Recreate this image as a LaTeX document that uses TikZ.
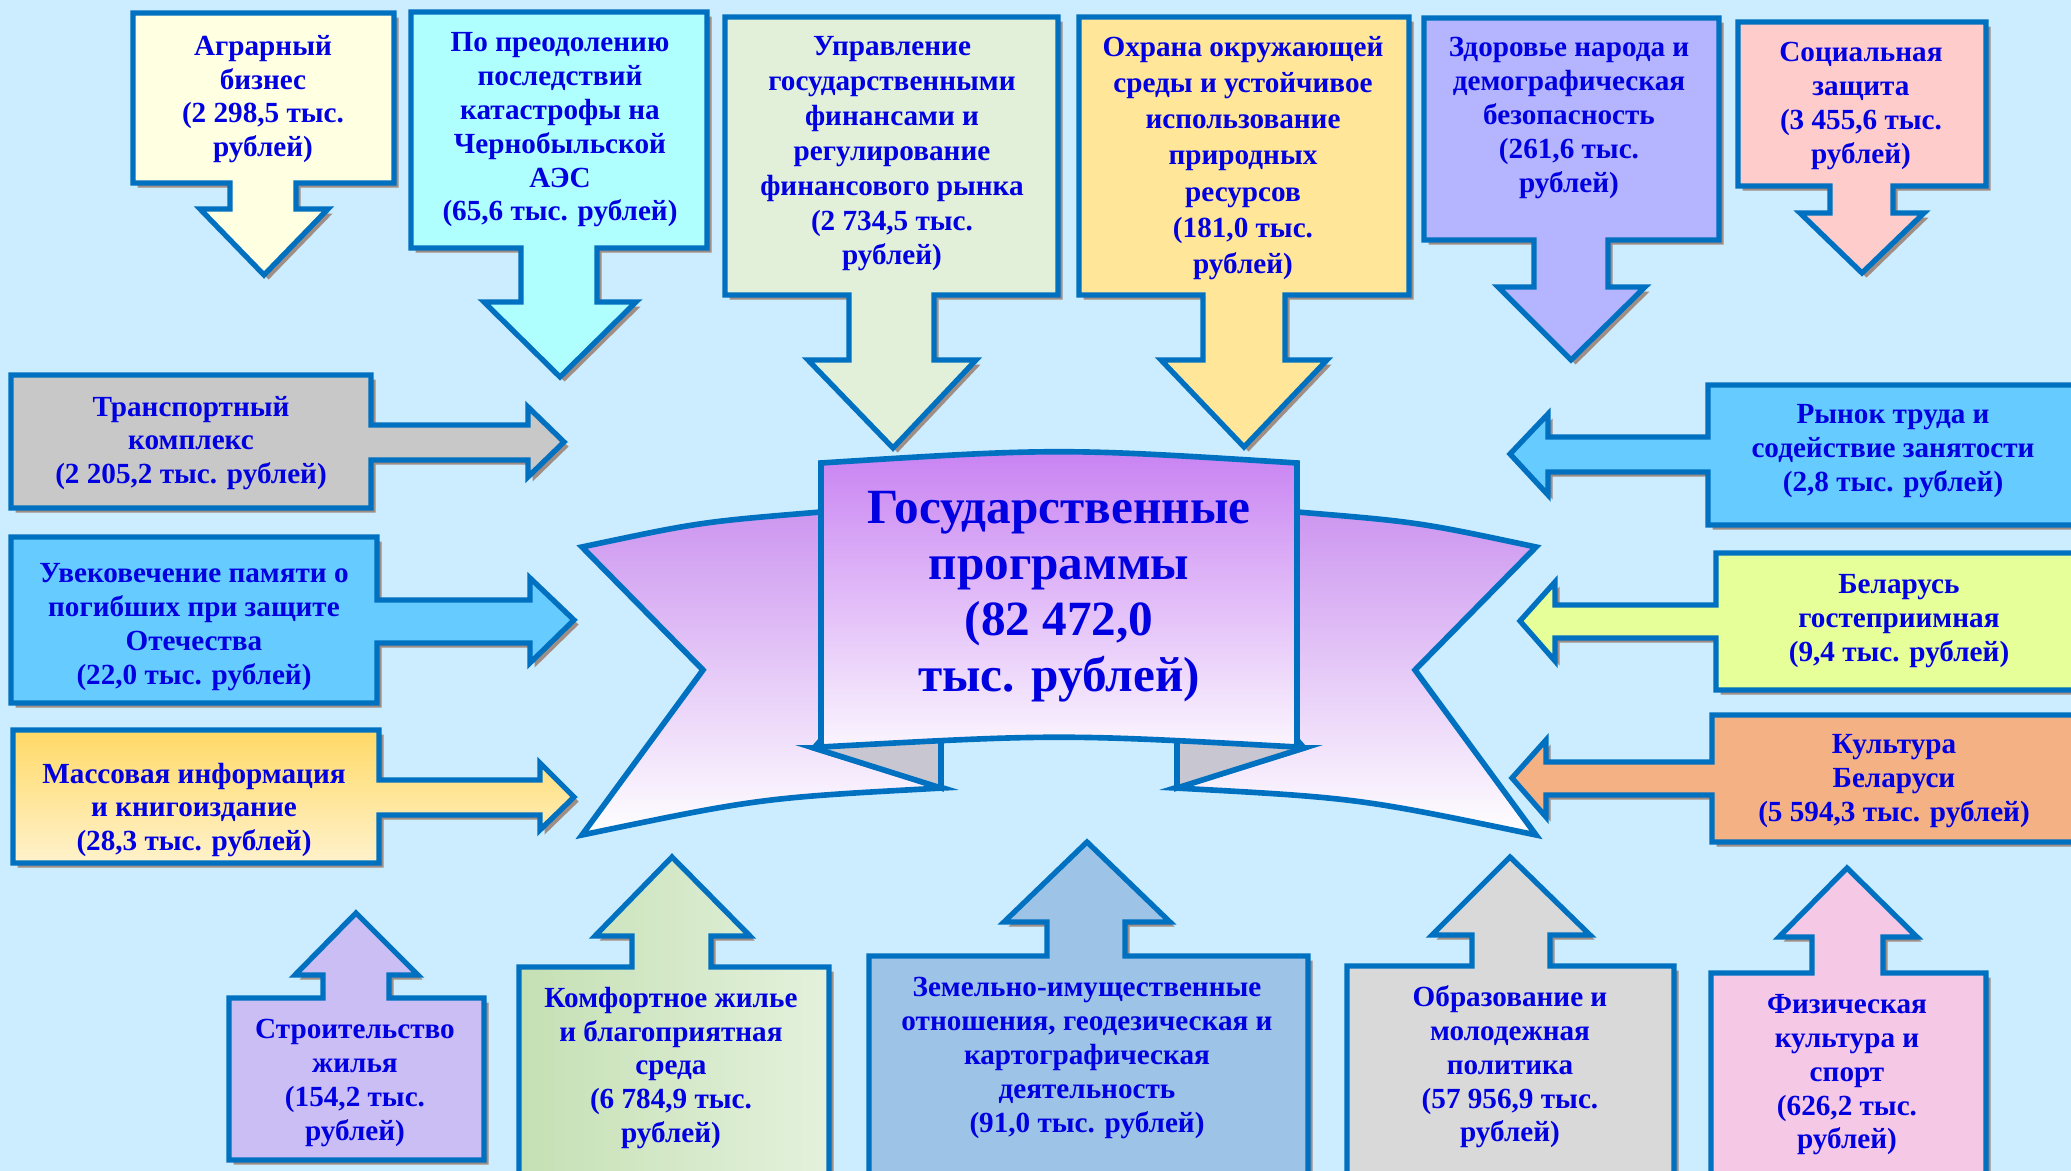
\documentclass[tikz,border=0pt]{standalone}
\usepackage{fontspec}
\setmainfont{Liberation Serif}
\usetikzlibrary{positioning,shadows}
\definecolor{bgblue}{RGB}{204,236,255}
\definecolor{edge}{RGB}{0,112,192}
\definecolor{txtblue}{RGB}{0,0,224}
\definecolor{shade}{RGB}{160,142,132}
\definecolor{cAgr}{RGB}{255,255,225}
\definecolor{cChern}{RGB}{175,255,255}
\definecolor{cUpr}{RGB}{226,240,217}
\definecolor{cOhr}{RGB}{255,230,153}
\definecolor{cZdr}{RGB}{180,180,255}
\definecolor{cSoc}{RGB}{255,204,204}
\definecolor{cTrn}{RGB}{200,200,200}
\definecolor{cSky}{RGB}{102,204,255}
\definecolor{cMassA}{RGB}{255,217,102}
\definecolor{cMassB}{RGB}{255,242,204}
\definecolor{cBel}{RGB}{230,255,153}
\definecolor{cKult}{RGB}{244,177,131}
\definecolor{cStr}{RGB}{202,190,245}
\definecolor{cKomfA}{RGB}{197,224,180}
\definecolor{cKomfB}{RGB}{228,241,220}
\definecolor{cZem}{RGB}{157,195,230}
\definecolor{cObr}{RGB}{217,217,217}
\definecolor{cFiz}{RGB}{245,200,230}
\definecolor{cTop}{RGB}{200,130,242}
\definecolor{cWing}{RGB}{205,150,240}
\definecolor{cFold}{RGB}{200,198,208}

\begin{document}
\begin{tikzpicture}[x=0.01cm,y=-0.01cm,
  callout/.style={draw=edge,line width=1.5pt,drop shadow={shadow xshift=1.3pt,shadow yshift=-1.3pt,fill=shade,opacity=1}},
  ribbon/.style={draw=edge,line width=1.6pt},
  lbl/.style={text=txtblue,font=\bfseries\fontsize{8.3}{9.6}\selectfont,align=center,inner sep=0pt}]
\useasboundingbox (0,0) rectangle (2071,1171);
\clip (0,0) rectangle (2071,1171);
\fill[bgblue] (0,0) rectangle (2071,1171);

% top row
\draw[callout,fill=cAgr] (133,13) -- (394,13) -- (394,183) -- (296,183) -- (296,209) -- (328,209) -- (264,275) -- (200,209) -- (230,209) -- (230,183) -- (133,183) -- cycle;
\draw[callout,fill=cChern] (411,12) -- (707,12) -- (707,248) -- (597,248) -- (597,302) -- (636,302) -- (560,377) -- (484,302) -- (521,302) -- (521,248) -- (411,248) -- cycle;
\draw[callout,fill=cUpr] (725,17) -- (1058,17) -- (1058,295) -- (934,295) -- (934,360) -- (976,360) -- (893,448) -- (808,360) -- (849,360) -- (849,295) -- (725,295) -- cycle;
\draw[callout,fill=cOhr] (1079,17) -- (1409,17) -- (1409,295) -- (1285,295) -- (1285,360) -- (1327,360) -- (1244,447) -- (1161,360) -- (1203,360) -- (1203,295) -- (1079,295) -- cycle;
\draw[callout,fill=cZdr] (1424,18) -- (1719,18) -- (1719,240) -- (1608,240) -- (1608,287) -- (1645,287) -- (1571,360) -- (1498,287) -- (1534,287) -- (1534,240) -- (1424,240) -- cycle;
\draw[callout,fill=cSoc] (1738,22) -- (1986,22) -- (1986,186) -- (1893,186) -- (1893,213) -- (1924,213) -- (1862,273) -- (1800,213) -- (1830,213) -- (1830,186) -- (1738,186) -- cycle;

% left column
\draw[callout,fill=cTrn] (11,375) -- (371,375) -- (371,425) -- (528,425) -- (528,407) -- (564,442) -- (528,477) -- (528,460) -- (371,460) -- (371,508) -- (11,508) -- cycle;
\draw[callout,fill=cSky] (11,537) -- (377,537) -- (377,600) -- (530,600) -- (530,578) -- (574,620) -- (530,663) -- (530,643) -- (377,643) -- (377,703) -- (11,703) -- cycle;
\draw[callout,top color=cMassA,bottom color=cMassB] (13,730) -- (379,730) -- (379,780) -- (540,780) -- (540,763) -- (574,797) -- (540,830) -- (540,815) -- (379,815) -- (379,863) -- (13,863) -- cycle;

% right column
\draw[callout,fill=cSky] (2085,385) -- (1708,385) -- (1708,437) -- (1548,437) -- (1548,414) -- (1510,454) -- (1548,495) -- (1548,472) -- (1708,472) -- (1708,525) -- (2085,525) -- cycle;
\draw[callout,fill=cBel] (2085,553) -- (1716,553) -- (1716,605) -- (1555,605) -- (1555,582) -- (1520,621) -- (1555,661) -- (1555,638) -- (1716,638) -- (1716,690) -- (2085,690) -- cycle;
\draw[callout,fill=cKult] (2085,715) -- (1712,715) -- (1712,762) -- (1546,762) -- (1546,740) -- (1512,778) -- (1546,817) -- (1546,795) -- (1712,795) -- (1712,842) -- (2085,842) -- cycle;

% bottom row
\draw[callout,fill=cStr] (229,1160) -- (229,998) -- (323,998) -- (323,975) -- (295,975) -- (356,913) -- (418,975) -- (389,975) -- (389,998) -- (484,998) -- (484,1160) -- cycle;
\draw[callout,left color=cKomfA,right color=cKomfB] (519,1190) -- (519,967) -- (632,967) -- (632,936) -- (595,936) -- (672,857) -- (750,936) -- (711,936) -- (711,967) -- (829,967) -- (829,1190) -- cycle;
\draw[callout,fill=cZem] (869,1190) -- (869,956) -- (1047,956) -- (1047,922) -- (1004,922) -- (1087,842) -- (1170,922) -- (1125,922) -- (1125,956) -- (1308,956) -- (1308,1190) -- cycle;
\draw[callout,fill=cObr] (1347,1190) -- (1347,966) -- (1472,966) -- (1472,935) -- (1432,935) -- (1510,857) -- (1590,935) -- (1550,935) -- (1550,966) -- (1674,966) -- (1674,1190) -- cycle;
\draw[callout,fill=cFiz] (1711,1190) -- (1711,973) -- (1812,973) -- (1812,937) -- (1779,937) -- (1847,868) -- (1917,937) -- (1883,937) -- (1883,973) -- (1986,973) -- (1986,1190) -- cycle;

% central ribbon
\draw[ribbon,top color=cWing,bottom color=white] (821,512) .. controls (700,522) .. (582,547) -- (703,670) -- (582,835) .. controls (760,798) .. (943,788) -- (814,748) -- (821,748) -- cycle;
\draw[ribbon,top color=cWing,bottom color=white] (1297,512) .. controls (1418,522) .. (1536,547) -- (1415,670) -- (1536,835) .. controls (1358,798) .. (1175,788) -- (1304,748) -- (1297,748) -- cycle;
\draw[ribbon,fill=cFold] (814,748) -- (941,788) -- (941,740) -- (821,740) -- cycle;
\draw[ribbon,fill=cFold] (1304,748) -- (1177,788) -- (1177,740) -- (1297,740) -- cycle;
\draw[ribbon,top color=cTop,bottom color=white!92!cTop] (821,463) .. controls (1059,448) .. (1297,463) -- (1297,747) .. controls (1059,734) .. (821,747) -- cycle;

\node[lbl,font=\bfseries\fontsize{14}{15.9}\selectfont] (title) at (1059,597) {Государственные\\программы\\(82 472,0\\тыс. рублей)};

\node[lbl] (agr) at (263,99) {Аграрный\\бизнес\\(2 298,5 тыс.\\рублей)};
\node[lbl] (chern) at (560,130) {По преодолению\\последствий\\катастрофы на\\Чернобыльской\\АЭС\\(65,6 тыс. рублей)};
\node[lbl,font=\bfseries\fontsize{8.3}{9.9}\selectfont] (upr) at (892,154) {Управление\\государственными\\финансами и\\регулирование\\финансового рынка\\(2 734,5 тыс.\\рублей)};
\node[lbl,font=\bfseries\fontsize{8.3}{10.3}\selectfont] (ohr) at (1243,158) {Охрана окружающей\\среды и устойчивое\\использование\\природных\\ресурсов\\(181,0 тыс.\\рублей)};
\node[lbl] (zdr) at (1569,118) {Здоровье народа и\\демографическая\\безопасность\\(261,6 тыс.\\рублей)};
\node[lbl] (soc) at (1861,106) {Социальная\\защита\\(3 455,6 тыс.\\рублей)};

\node[lbl] (trn) at (191,443) {Транспортный\\комплекс\\(2 205,2 тыс. рублей)};
\node[lbl] (uvk) at (194,627) {Увековечение памяти о\\погибших при защите\\Отечества\\(22,0 тыс. рублей)};
\node[lbl] (mass) at (194,810) {Массовая информация\\и книгоиздание\\(28,3 тыс. рублей)};

\node[lbl] (ryn) at (1893,451) {Рынок труда и\\содействие занятости\\(2,8 тыс. рублей)};
\node[lbl] (bel) at (1899,621) {Беларусь\\гостеприимная\\(9,4 тыс. рублей)};
\node[lbl] (kult) at (1894,781) {Культура\\Беларуси\\(5 594,3 тыс. рублей)};

\node[lbl] (str) at (355,1083) {Строительство\\жилья\\(154,2 тыс.\\рублей)};
\node[lbl] (komf) at (671,1068) {Комфортное жилье\\и благоприятная\\среда\\(6 784,9 тыс.\\рублей)};
\node[lbl] (zem) at (1087,1058) {Земельно-имущественные\\отношения, геодезическая и\\картографическая\\деятельность\\(91,0 тыс. рублей)};
\node[lbl] (obr) at (1510,1067) {Образование и\\молодежная\\политика\\(57 956,9 тыс.\\рублей)};
\node[lbl] (fiz) at (1847,1075) {Физическая\\культура и\\спорт\\(626,2 тыс.\\рублей)};
\end{tikzpicture}
\end{document}
